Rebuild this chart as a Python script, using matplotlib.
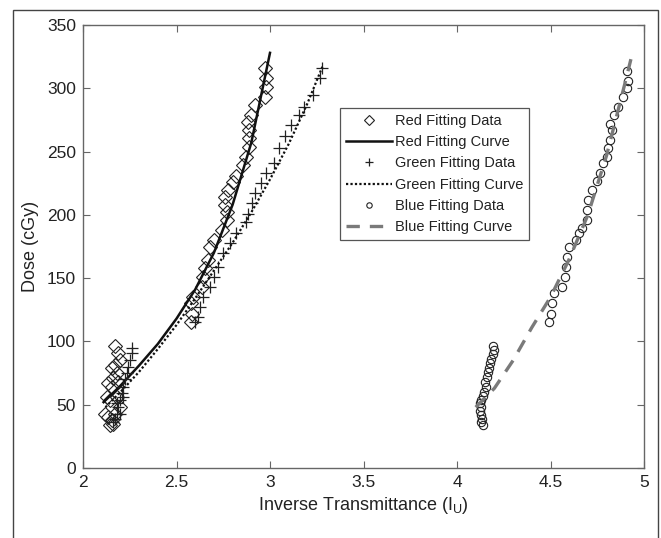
import matplotlib
matplotlib.use("Agg")
import matplotlib.pyplot as plt
from matplotlib.patches import Rectangle

plt.rcParams["font.family"] = ["Liberation Sans", "DejaVu Sans"]

# ---- data ----
red_x = [2.171, 2.187, 2.198, 2.171, 2.155, 2.18, 2.16, 2.134, 2.155, 2.187,
         2.128, 2.144, 2.118, 2.134, 2.155, 2.144, 2.16, 2.171, 2.198, 2.18,
         2.973, 2.98, 2.98, 2.973, 2.92, 2.90, 2.88, 2.89, 2.89, 2.89,
         2.87, 2.855, 2.82, 2.80, 2.775, 2.76, 2.76, 2.77, 2.77, 2.745,
         2.70, 2.68, 2.67, 2.655, 2.64, 2.635, 2.59, 2.575, 2.585, 2.575]
red_y = [96, 91, 85, 81, 79, 75, 71, 67, 64, 68,
         56, 54, 43, 40, 38, 34, 35, 43, 48, 56,
         316, 308, 301, 293, 287, 279, 273, 267, 261, 254,
         246, 239, 231, 226, 220, 214, 208, 202, 196, 188,
         180, 175, 164, 158, 151, 143, 135, 130, 122, 115]

green_x = [2.262, 2.262, 2.251, 2.24, 2.235, 2.225, 2.214, 2.208, 2.198, 2.187,
           2.18, 2.171, 2.16, 2.198, 2.214, 2.18,
           3.28, 3.27, 3.23, 3.18, 3.155, 3.11, 3.08, 3.05, 3.02, 2.98,
           2.95, 2.92, 2.905, 2.885, 2.87, 2.82, 2.785, 2.75, 2.72, 2.70,
           2.68, 2.64, 2.625, 2.615, 2.60]
green_y = [95, 91, 85, 80, 75, 70, 64, 59, 54, 48,
           43, 39, 36, 43, 56, 51,
           316, 308, 295, 285, 279, 271, 262, 253, 241, 233,
           225, 217, 209, 201, 194, 186, 178, 170, 159, 151,
           143, 135, 127, 119, 115]

blue_x = [4.19, 4.20, 4.19, 4.18, 4.175, 4.17, 4.165, 4.16, 4.15, 4.155,
          4.145, 4.14, 4.13, 4.125, 4.13, 4.125, 4.13, 4.135, 4.13, 4.14,
          4.91, 4.915, 4.91, 4.89, 4.86, 4.84, 4.82, 4.83, 4.82, 4.81,
          4.80, 4.78, 4.765, 4.75, 4.72, 4.70, 4.695, 4.695, 4.67, 4.65,
          4.635, 4.60, 4.59, 4.585, 4.575, 4.56, 4.52, 4.51, 4.505, 4.49]
blue_y = [96, 93, 90, 86, 83, 79, 76, 72, 68, 64,
          60, 57, 54, 51, 48, 45, 42, 39, 36, 34,
          314, 306, 300, 293, 285, 279, 272, 267, 259, 253,
          246, 241, 233, 227, 220, 212, 204, 196, 190, 186,
          180, 175, 167, 159, 151, 143, 138, 130, 122, 115]

red_fit_x = [2.11, 2.2, 2.3, 2.4, 2.5, 2.6, 2.7, 2.8, 2.9, 3.0]
red_fit_y = [52, 65, 81, 98, 118, 141, 170, 208, 257, 328]

green_fit_x = [2.12, 2.2, 2.3, 2.4, 2.5, 2.6, 2.7, 2.8, 2.9, 3.0, 3.1, 3.2, 3.28]
green_fit_y = [48, 60, 76, 94, 113, 134, 156, 178, 202, 228, 256, 288, 317]

blue_fit_x = [4.10, 4.2, 4.3, 4.4, 4.5, 4.6, 4.7, 4.8, 4.9, 4.93]
blue_fit_y = [48, 63, 85, 111, 135, 165, 200, 247, 305, 323]

x_ticks = [2, 2.5, 3, 3.5, 4, 4.5, 5]
y_ticks = [0, 50, 100, 150, 200, 250, 300, 350]

# ---- figure ----
fig = plt.figure(figsize=(6.61, 5.38), dpi=100)
fig.patches.append(Rectangle((13 / 661, -0.1), 645 / 661, 1.1 - 10 / 538,
                             transform=fig.transFigure, fill=False,
                             edgecolor="#444444", linewidth=1.0))
ax = fig.add_axes([83 / 661, 70 / 538, 561 / 661, 443 / 538])

mk = dict(linestyle="none", color="#222222", markerfacecolor="none")
ax.plot(red_x, red_y, marker="D", markersize=7.5, markeredgewidth=0.8,
        label="Red Fitting Data", **mk)
ax.plot(red_fit_x, red_fit_y, color="#111111", linewidth=1.8,
        label="Red Fitting Curve")
ax.plot(green_x, green_y, marker="+", markersize=9, markeredgewidth=0.9,
        label="Green Fitting Data", **mk)
ax.plot(green_fit_x, green_fit_y, color="#111111", linewidth=1.6,
        linestyle=(0, (1, 1)), label="Green Fitting Curve")
ax.plot(blue_x, blue_y, marker="o", markersize=6, markeredgewidth=0.8,
        label="Blue Fitting Data", **mk)
ax.plot(blue_fit_x, blue_fit_y, color="#7a7a7a", linewidth=2.4,
        linestyle=(0, (4, 3)), label="Blue Fitting Curve")

ax.set_xlim(2, 5)
ax.set_ylim(0, 350)
ax.set_xticks(x_ticks)
ax.set_xticklabels(["2", "2.5", "3", "3.5", "4", "4.5", "5"])
ax.set_yticks(y_ticks)
ax.tick_params(direction="in", length=5, width=0.8, top=True, right=True,
               labelsize=12.5, colors="#666666", labelcolor="#222222", pad=5)
for s in ax.spines.values():
    s.set_color("#666666")
    s.set_linewidth(1.0)

ax.set_xlabel(r"Inverse Transmittance (I$_\mathregular{U}$)", fontsize=13,
              color="#222222", labelpad=4)
ax.set_ylabel("Dose (cGy)", fontsize=13, color="#222222", labelpad=6)

leg = ax.legend(loc="upper left", bbox_to_anchor=(0.458, 0.8126),
                borderaxespad=0, fontsize=10.5, handlelength=3.2,
                handletextpad=0.15, labelspacing=0.5, borderpad=0.4,
                markerscale=0.65, fancybox=False, framealpha=1,
                edgecolor="#555555")
leg.get_frame().set_linewidth(0.9)
for t in leg.get_texts():
    t.set_color("#222222")

fig.savefig("out.png", dpi=100)
